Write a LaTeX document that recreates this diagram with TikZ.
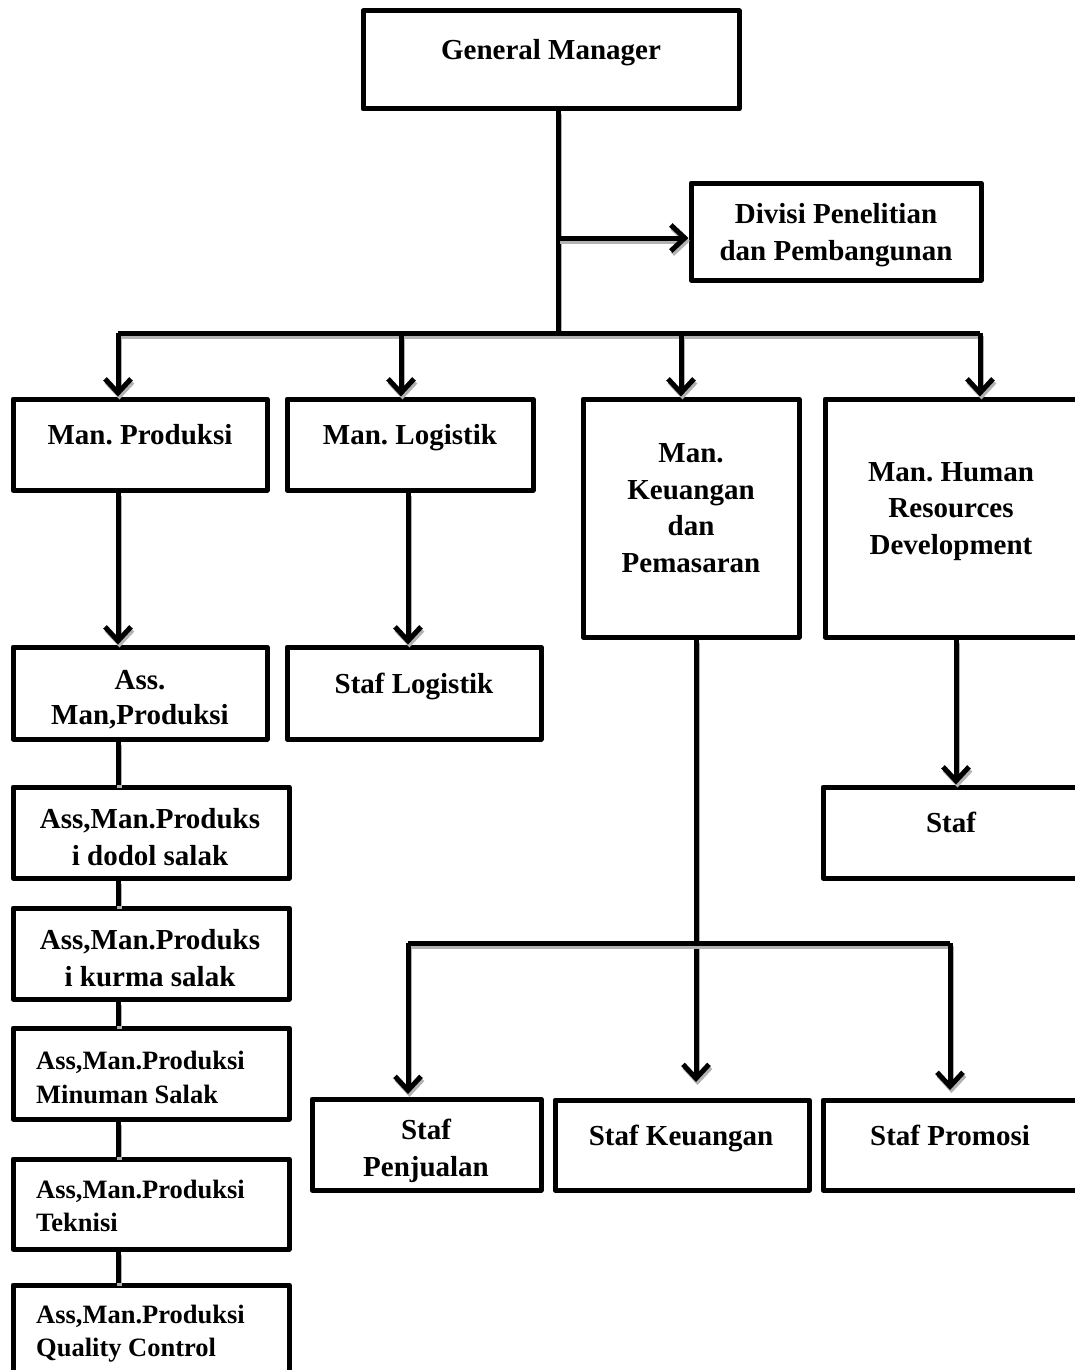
\documentclass[tikz,border=0pt]{standalone}
\usepackage{fontspec}
\setmainfont{Liberation Serif}
\usetikzlibrary{arrows.meta}
\begin{document}
\frenchspacing
\begin{tikzpicture}[x=1pt,y=-1pt,
  box/.style={draw=black, line width=5pt, line join=round, rectangle, inner sep=0pt},
  txt/.style={font=\fontsize{29}{36.5}\selectfont\bfseries, inner sep=0pt, anchor=base, align=center},
  txts/.style={font=\fontsize{26.5}{34}\selectfont\bfseries, inner sep=0pt, anchor=base west, align=left},
  conn/.style={line width=5pt, line join=round,
    preaction={draw=black!30, line width=5pt, transform canvas={shift={(1.5pt,-3pt)}}}},
  arr/.style={conn, -{Straight Barb[length=14pt,width=26pt,line width=5pt]}}]
\useasboundingbox (0,0) rectangle (1075,1370);
\clip (0,0) rectangle (1075,1370);
\fill[white] (0,0) rectangle (1075,1370);

% boxes
\node[box, minimum width=376pt, minimum height=98pt] (gm) at (551,60) {};
\node[box, minimum width=290pt, minimum height=97pt] (div) at (836,231.5) {};
\node[box, minimum width=254pt, minimum height=91pt] (mp) at (140,444.5) {};
\node[box, minimum width=246pt, minimum height=91pt] (ml) at (410,444.5) {};
\node[box, minimum width=216pt, minimum height=238pt] (mk) at (691,518) {};
\node[box, minimum width=275pt, minimum height=238pt] (mh) at (962.5,518) {};
\node[box, minimum width=254pt, minimum height=92pt] (amp) at (140,693) {};
\node[box, minimum width=254pt, minimum height=92pt] (sl) at (414,693) {};
\node[box, minimum width=276pt, minimum height=91pt] (a1) at (151,832.5) {};
\node[box, minimum width=276pt, minimum height=91pt] (a2) at (151,953.5) {};
\node[box, minimum width=276pt, minimum height=91pt] (a3) at (151,1073.5) {};
\node[box, minimum width=276pt, minimum height=90pt] (a4) at (151,1204) {};
\node[box, minimum width=276pt, minimum height=115pt] (a5) at (151,1342.5) {};
\node[box, minimum width=229pt, minimum height=91pt] (sp) at (426.5,1144.5) {};
\node[box, minimum width=254pt, minimum height=90pt] (sk) at (682,1145) {};
\node[box, minimum width=277pt, minimum height=90pt] (spr) at (961.5,1145) {};
\node[box, minimum width=277pt, minimum height=91pt] (st) at (961.5,832.5) {};

% texts (base anchor = baseline of last line)
\node[txt] (gmT) at (551,60) {General Manager};
\node[txt] (divT) at (836,260) {Divisi Penelitian\\dan Pembangunan};
\node[txt] (mpT) at (140,444) {Man. Produksi};
\node[txt] (mlT) at (410,444) {Man. Logistik};
\node[txt] (mkT) at (691,572) {Man.\\Keuangan\\dan\\Pemasaran};
\node[txt] (mhT) at (951,554) {Man. Human\\Resources\\Development};
\node[txt, font=\fontsize{29}{35}\selectfont\bfseries] (ampT) at (140,724) {Ass.\\Man,Produksi};
\node[txt] (slT) at (414,693) {Staf Logistik};
\node[txt] (a1T) at (150,865) {Ass,Man.Produks\\i dodol salak};
\node[txt] (a2T) at (150,986) {Ass,Man.Produks\\i kurma salak};
\node[txts] (a3T) at (36,1103) {Ass,Man.Produksi\\Minuman Salak};
\node[txts, font=\fontsize{26.5}{33}\selectfont\bfseries] (a4T) at (36,1231) {Ass,Man.Produksi\\Teknisi};
\node[txts, font=\fontsize{26.5}{33}\selectfont\bfseries] (a5T) at (36,1356) {Ass,Man.Produksi\\Quality Control};
\node[txt] (spT) at (426,1176) {Staf\\Penjualan};
\node[txt] (skT) at (681,1145) {Staf Keuangan};
\node[txt] (sprT) at (950,1145) {Staf Promosi};
\node[txt] (stT) at (951,832) {Staf};

% top connectors
\coordinate (bus) at (558,333);
\draw[conn] (gm.south -| bus) -- (bus);
\draw[arr] (558,238) -- (div.west |- 558,238);
\draw[conn] (118,333) -- (980,333);
\draw[arr] (118,333) -- (mp.north -| 118,333);
\draw[arr] (401,333) -- (ml.north -| 401,333);
\draw[arr] (681,333) -- (mk.north -| 681,333);
\draw[arr] (980,333) -- (mh.north -| 980,333);

% produksi chain
\draw[arr] (mp.south -| 118,0) -- (amp.north -| 118,0);
\draw[conn] (amp.south -| 118,0) -- (a1.north -| 118,0);
\draw[conn] (a1.south -| 118,0) -- (a2.north -| 118,0);
\draw[conn] (a2.south -| 118,0) -- (a3.north -| 118,0);
\draw[conn] (a3.south -| 118,0) -- (a4.north -| 118,0);
\draw[conn] (a4.south -| 118,0) -- (a5.north -| 118,0);

% logistik
\draw[arr] (ml.south -| 408,0) -- (sl.north -| 408,0);

% HRD
\draw[arr] (mh.south -| 956,0) -- (st.north -| 956,0);

% keuangan
\coordinate (kbus) at (696,943);
\draw[arr] (mk.south -| kbus) -- (696,1082);
\draw[conn] (408,943) -- (950,943);
\draw[arr] (408,943) -- (408,1094);
\draw[arr] (950,943) -- (950,1090);
\end{tikzpicture}
\end{document}
